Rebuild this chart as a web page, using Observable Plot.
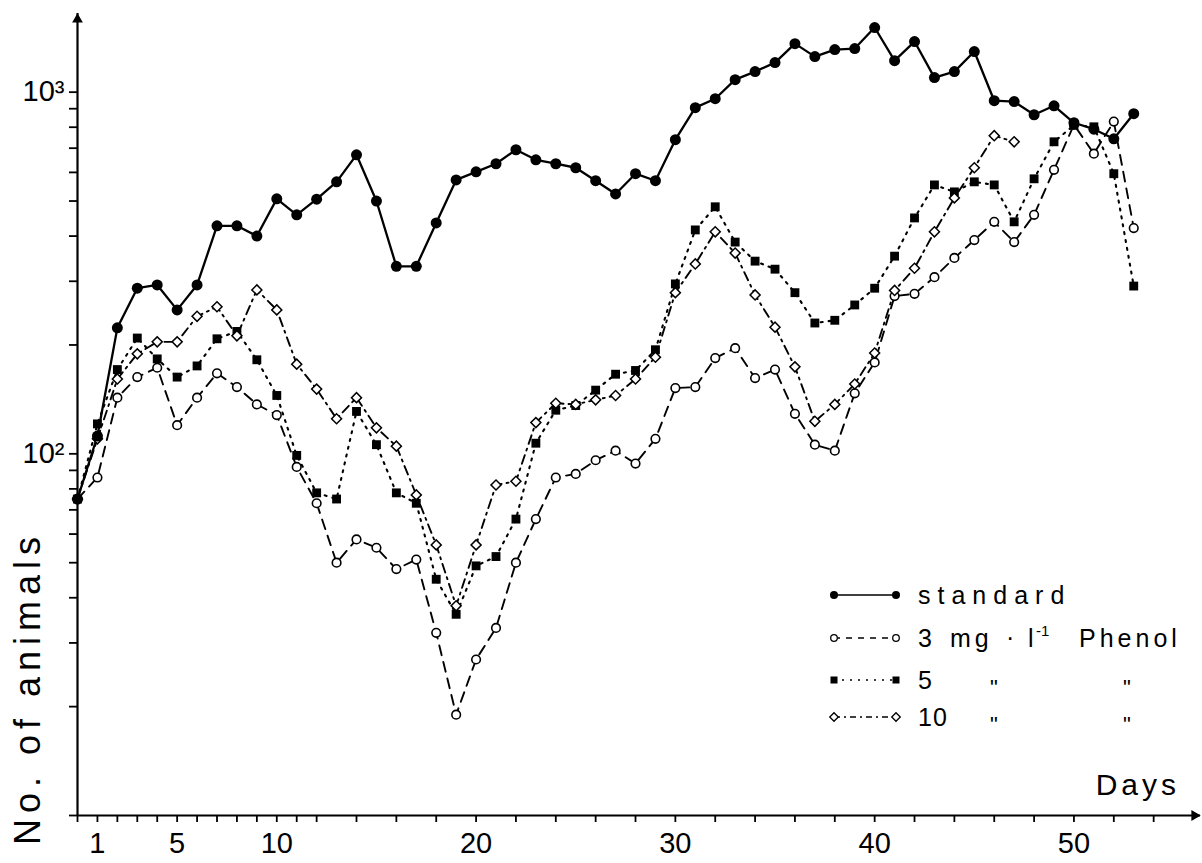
<!DOCTYPE html>
<html><head><meta charset="utf-8">
<script src="https://cdn.jsdelivr.net/npm/d3@7"></script>
<script src="https://cdn.jsdelivr.net/npm/@observablehq/plot@0.6"></script>
<style>
html,body{margin:0;padding:0;background:#fff;}
#chart{width:1202px;height:863px;}
</style></head><body><div id="chart"></div>
<script>
// ---- data ----
const days = d3.range(0, 54);
const standard = [75,112,223,287,293,250,293,427,427,400,507,458,506,565,671,500,330,330,435,572,602,634,693,650,634,618,569,523,595,569,739,906,959,1083,1140,1207,1362,1254,1311,1320,1509,1222,1380,1097,1140,1295,947,942,866,917,823,790,743,872];
const mg3 = [75,86,143,163,173,120,143,167,153,137,128,92,73,50,58,55,48,51,32,19,27,33,50,66,86,88,96,102,94,110,152,153,184,196,162,171,129,106,102,147,179,273,277,308,348,390,438,385,458,610,813,676,829,421];
const mg5 = [75,121,171,209,183,163,175,208,218,182,145,99,78,75,131,106,78,73,45,36,49,52,66,107,132,136,150,166,170,194,295,416,482,385,341,324,279,230,234,258,287,352,449,554,530,565,554,438,576,729,810,802,595,291];
const mg10 = [75,110,161,189,204,204,240,255,212,284,250,177,151,125,143,118,105,77,56,38,56,82,84,122,138,137,141,145,161,185,279,335,411,359,275,224,174,123,137,156,190,283,326,411,510,618,758,729];
const xTicks = [...d3.range(0, 13), ...d3.range(14, 56, 2)];
const xTickLabels = [1, 5, 10, 20, 30, 40, 50];
const yTicks = [...d3.range(10, 100, 10), ...d3.range(100, 1000, 100), 1000];
const yTickLabels = {100: "10²", 1000: "10³"};
const xDomain = [0, 56.35];
const yDomain = [10, 1650];

const rows = vals => vals.map((v, i) => ({day: days[i], value: v}));
const sStd = rows(standard), s3 = rows(mg3), s5 = rows(mg5), s10 = rows(mg10);

const FONT = "Liberation Sans, Arial, sans-serif";
const plot = Plot.plot({
  width: 1202, height: 863,
  marginLeft: 77, marginRight: 2, marginTop: 13, marginBottom: 48,
  x: {domain: xDomain, axis: null},
  y: {type: "log", domain: yDomain, axis: null},
  style: {fontFamily: FONT, fontSize: "29px", color: "black", background: "white", overflow: "visible"},
  marks: [
    Plot.axisX({ticks: xTicks, tickSize: 7, tickPadding: 10, strokeWidth: 1.8, label: null,
      tickFormat: d => xTickLabels.includes(d) ? String(d) : ""}),
    Plot.axisY({ticks: yTicks, tickSize: 8, tickPadding: 5, strokeWidth: 1.8, label: null,
      tickFormat: d => yTickLabels[d] ?? ""}),
    Plot.ruleY([yDomain[0]], {stroke: "black", strokeWidth: 2.2}),
    Plot.ruleX([xDomain[0]], {stroke: "black", strokeWidth: 2.2}),
    Plot.dot([{x: xDomain[0], y: yDomain[1]}], {x: "x", y: "y", symbol: "triangle", r: 4, fill: "black", dy: 6}),
    Plot.dot([{x: xDomain[1], y: yDomain[0]}], {x: "x", y: "y", symbol: "triangle", r: 4, fill: "black", rotate: 90, dx: -6}),
    Plot.line(s3, {x: "day", y: "value", stroke: "black", strokeWidth: 1.9, strokeDasharray: "10,7"}),
    Plot.line(s5, {x: "day", y: "value", stroke: "black", strokeWidth: 2.1, strokeDasharray: "2,6"}),
    Plot.line(s10, {x: "day", y: "value", stroke: "black", strokeWidth: 1.9, strokeDasharray: "9,5,2,5"}),
    Plot.line(sStd, {x: "day", y: "value", stroke: "black", strokeWidth: 2.3}),
    Plot.dot(s3, {x: "day", y: "value", symbol: "circle", r: 4.3, fill: "white", stroke: "black", strokeWidth: 1.6}),
    Plot.dot(s5, {x: "day", y: "value", symbol: "square", r: 5, fill: "black"}),
    Plot.dot(s10, {x: "day", y: "value", symbol: "square", r: 4, rotate: 45, fill: "white", stroke: "black", strokeWidth: 1.5}),
    Plot.dot(sStd, {x: "day", y: "value", symbol: "circle", r: 5.5, fill: "black"})
  ]
});
document.getElementById("chart").appendChild(plot);

// ---- titles and legend ----
const svg = d3.select(plot);
const g = svg.append("g").attr("font-family", FONT).attr("fill", "black").attr("text-anchor", "start");

g.append("text").attr("transform", "translate(40,845) rotate(-90)").attr("text-anchor", "start")
  .attr("font-size", 36).attr("letter-spacing", 6).text("No. of animals");
g.append("text").attr("x", 1180).attr("y", 795).attr("text-anchor", "end")
  .attr("font-size", 30).attr("letter-spacing", 4).text("Days");

const legend = [
  {label: "standard", dash: null, sym: "fcircle", ls: 7},
  {label: "3", dash: "6,6", sym: "ocircle", ls: 0},
  {label: "5", dash: "2,6", sym: "fsquare", ls: 0},
  {label: "10", dash: "6,4,2,4", sym: "odiamond", ls: 1}
];
const ly = [595, 638, 680, 717];
const lx1 = 834, lx2 = 896;
legend.forEach((e, i) => {
  const y = ly[i];
  const line = g.append("line").attr("x1", lx1).attr("x2", lx2).attr("y1", y).attr("y2", y)
    .attr("stroke", "black").attr("stroke-width", 1.6);
  if (e.dash) line.attr("stroke-dasharray", e.dash);
  [lx1, lx2].forEach(x => {
    if (e.sym === "fcircle") g.append("circle").attr("cx", x).attr("cy", y).attr("r", 4).attr("fill", "black");
    if (e.sym === "ocircle") g.append("circle").attr("cx", x).attr("cy", y).attr("r", 3.3).attr("fill", "white").attr("stroke", "black").attr("stroke-width", 1.3);
    if (e.sym === "fsquare") g.append("rect").attr("x", x - 3.5).attr("y", y - 3.5).attr("width", 7).attr("height", 7).attr("fill", "black");
    if (e.sym === "odiamond") g.append("rect").attr("x", -3).attr("y", -3).attr("width", 6).attr("height", 6)
      .attr("transform", `translate(${x},${y}) rotate(45)`).attr("fill", "white").attr("stroke", "black").attr("stroke-width", 1.3);
  });
  g.append("text").attr("x", 918).attr("y", y + 9).attr("font-size", 25).attr("letter-spacing", e.ls).text(e.label);
});
// row 2 remainder: "mg · l-1 Phenol"
const r2 = ly[1] + 9;
g.append("text").attr("x", 950).attr("y", r2).attr("font-size", 25).attr("letter-spacing", 4).text("mg");
g.append("text").attr("x", 1006).attr("y", r2 - 1).attr("font-size", 25).text("·");
g.append("text").attr("x", 1028).attr("y", r2).attr("font-size", 25).text("l");
g.append("text").attr("x", 1036).attr("y", r2 - 11).attr("font-size", 15).text("-1");
g.append("text").attr("x", 1079).attr("y", r2).attr("font-size", 25).attr("letter-spacing", 4).text("Phenol");
// ditto marks
[2, 3].forEach(i => {
  [990, 1123].forEach(x => {
    g.append("text").attr("x", x).attr("y", ly[i] + 15).attr("font-size", 22).text("\"");
  });
});
</script></body></html>
